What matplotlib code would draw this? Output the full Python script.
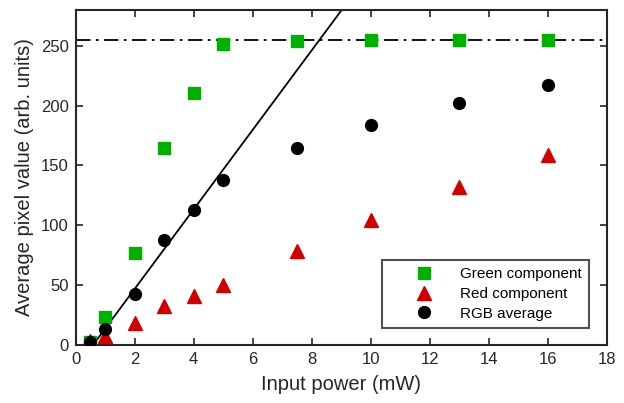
import matplotlib
matplotlib.use("Agg")
import matplotlib.pyplot as plt
import numpy as np

plt.rcParams['font.family'] = ['Liberation Sans', 'DejaVu Sans']

power = [0.5, 1, 2, 3, 4, 5, 7.5, 10, 13, 16]
green = [2, 23, 77, 165, 211, 252, 254, 255, 255, 255]
red = [3, 7, 18, 32, 41, 50, 78, 104, 132, 159]
rgb = [2, 13.5, 42.5, 88, 112.5, 137.5, 164.5, 184, 202, 217]
fit_slope = 33.3
fit_intercept = -20.0
saturation = 255

fig = plt.figure(figsize=(6.24, 4.03), dpi=100)
ax = fig.add_axes([0.121, 0.1447, 0.852, 0.8303])
axc = '#262626'

ax.axhline(saturation, color='black', linestyle=(0, (8, 3, 1.5, 3)), linewidth=1.3, zorder=1)
xf = np.array([0, 18])
ax.plot(xf, fit_slope * xf + fit_intercept, color='black', linewidth=1.3, zorder=2)

ax.plot(power, green, linestyle='none', marker='s', markersize=8, color='#00B000',
        markeredgecolor='#00B000', label='Green component', zorder=3)
ax.plot(power, red, linestyle='none', marker='^', markersize=10, color='#D00000',
        markeredgecolor='#D00000', label='Red component', zorder=3)
ax.plot(power, rgb, linestyle='none', marker='o', markersize=8.5, color='black',
        label='RGB average', zorder=3)

ax.set_xlim(0, 18)
ax.set_ylim(0, 280)
ax.set_xticks(np.arange(0, 19, 2))
ax.set_yticks(np.arange(0, 251, 50))
ax.tick_params(direction='in', length=5, width=1.2, top=True, right=True,
               labelsize=12, colors=axc, labelcolor=axc, pad=5)
for s in ax.spines.values():
    s.set_linewidth(1.5)
    s.set_color(axc)

ax.set_xlabel('Input power (mW)', fontsize=14.5, color=axc, labelpad=6)
ax.set_ylabel('Average pixel value (arb. units)', fontsize=14.5, color=axc, labelpad=5)

leg = ax.legend(loc='lower right', bbox_to_anchor=(0.966, 0.051), borderaxespad=0,
                fontsize=11, frameon=True, fancybox=False, edgecolor=axc,
                handletextpad=0.1, borderpad=0.45, labelspacing=0.38,
                handlelength=4.6)
leg.get_frame().set_linewidth(1.5)

fig.savefig('out.png', dpi=100)
